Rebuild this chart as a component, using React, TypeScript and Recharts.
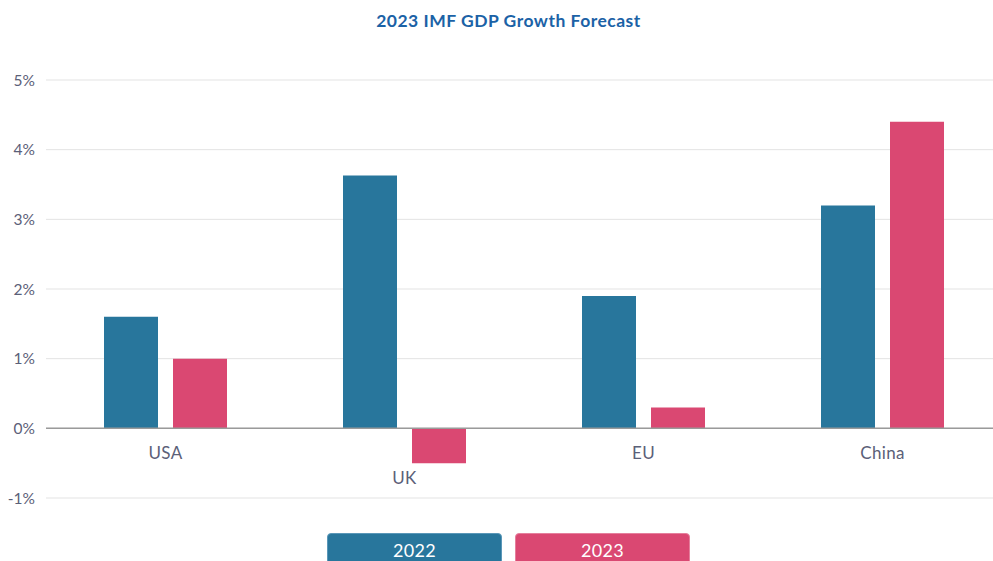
import React from "react";
import { BarChart, Bar, XAxis, YAxis, CartesianGrid, ReferenceLine, Legend, LabelList } from "recharts";

const categories = ["USA", "UK", "EU", "China"];
const values2022 = [1.6, 3.63, 1.9, 3.2];
const values2023 = [1.0, -0.5, 0.3, 4.4];
const yTicks = [-1, 0, 1, 2, 3, 4, 5];
const seriesNames = ["2022", "2023"];

const BLUE = "#28769c";
const PINK = "#da4872";
const TEXT = "#5b6078";
const FONT = "Lato, 'Open Sans', sans-serif";
const BAR_GAP = 15;

const data = categories.map((c, i) => ({ name: c, y2022: values2022[i], y2023: values2023[i] }));

const CategoryLabel = (props: any) => {
  const { x, y, width, height, index } = props;
  const cx = x + width + BAR_GAP / 2;
  const zeroY = y + height;
  const extra = data[index].y2023 < 0 ? 25 : 0;
  return (
    <text x={cx} y={zeroY + 26 + extra} textAnchor="middle" dominantBaseline="middle" fill={TEXT} fontSize={17} fontFamily={FONT} letterSpacing={0.3}>
      {data[index].name}
    </text>
  );
};

const LegendContent = () => (
  <div style={{ paddingTop: 35, display: "flex", justifyContent: "center", gap: 13, paddingLeft: 15, fontFamily: FONT }}>
    {seriesNames.map((n, i) => (
      <div key={n} style={{
        width: 175, height: 38, boxSizing: "border-box", background: i === 0 ? BLUE : PINK,
        border: `1px solid ${i === 0 ? "#5a97b8" : "#e57f9c"}`, borderRadius: 4, color: "#fff",
        fontSize: 18, textAlign: "center", lineHeight: "32px", letterSpacing: 0.3,
      }}>{n}</div>
    ))}
  </div>
);

export default function App() {
  return (
    <div style={{ position: "absolute", left: 0, top: 0, width: 993, height: 561, overflow: "hidden", background: "#fff" }}>
      <div style={{ position: "absolute", top: 10, left: 0, width: 1017, textAlign: "center", fontFamily: FONT, fontWeight: 700, fontSize: 17.5, letterSpacing: 0.5, color: "#1b62a6" }}>
        2023 IMF GDP Growth Forecast
      </div>
      <BarChart width={1010} height={571} data={data} margin={{ top: 80, right: 8, left: 0, bottom: 0 }} barCategoryGap={58} barGap={BAR_GAP}>
        <CartesianGrid vertical={false} stroke="#e3e3e3" />
        <XAxis dataKey="name" hide />
        <YAxis domain={[-1, 5]} ticks={yTicks} width={46} axisLine={false} tickLine={false} tickMargin={5}
          tickFormatter={(v: number) => `${v}%`} tick={{ fill: TEXT, fontSize: 15.5, fontFamily: FONT }} interval={0} />
        <ReferenceLine y={0} stroke="#9a9a9a" strokeWidth={1.5} />
        <Legend verticalAlign="bottom" content={<LegendContent />} />
        <Bar dataKey="y2022" name="2022" fill={BLUE} isAnimationActive={false}>
          <LabelList dataKey="y2022" content={<CategoryLabel />} />
        </Bar>
        <Bar dataKey="y2023" name="2023" fill={PINK} isAnimationActive={false} />
      </BarChart>
    </div>
  );
}
